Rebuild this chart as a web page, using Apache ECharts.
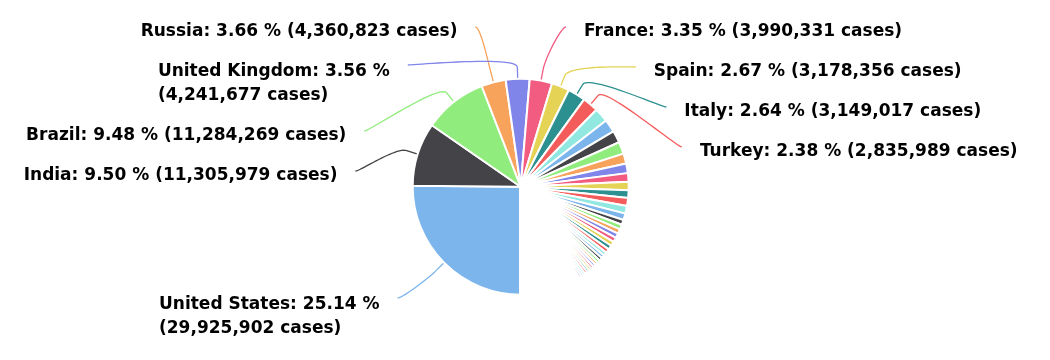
<!DOCTYPE html>
<html><head><meta charset="utf-8">
<script src="https://cdn.jsdelivr.net/npm/echarts@6/dist/echarts.min.js"></script>
<style>html,body{margin:0;padding:0;background:#fff;}#chart{width:1050px;height:360px;}</style>
</head><body><div id="chart"></div>
<script>
// ---- DATA (COVID-19 cumulative cases by country) ----
const countries = [
  'United States','India','Brazil','Russia','United Kingdom','France','Spain','Italy','Turkey',
  'Germany','Colombia','Argentina','Mexico','Poland','Iran','South Africa','Ukraine','Indonesia','Czechia','Peru',
  'Netherlands','Canada','Chile','Romania','Israel','Portugal','Belgium','Iraq','Sweden',
  'Philippines','Pakistan','Switzerland','Bangladesh','Serbia','Hungary','Morocco','Austria','Jordan','Japan',
  'United Arab Emirates','Lebanon','Saudi Arabia','Panama','Slovakia','Malaysia','Belarus','Ecuador',
  'Nepal','Georgia','Kazakhstan','Bolivia','Bulgaria','Croatia','Dominican Republic','Azerbaijan','Tunisia',
  'Ireland','Denmark','Greece','Costa Rica','Lithuania','Kuwait','Slovenia','Moldova','Egypt','Guatemala',
  'Armenia','Paraguay','Honduras','Qatar','Ethiopia','Nigeria',
  'Oman','Venezuela','Myanmar','Bosnia and Herzegovina','Libya','Bahrain','Albania','Algeria','Kenya','North Macedonia',
  'South Korea','Latvia','China','Kyrgyzstan','Sri Lanka','Ghana','Estonia','Zambia','Uzbekistan','Montenegro',
  'Norway','Kosovo','Finland','Mozambique','El Salvador','Cuba','Uruguay','Singapore','Luxembourg','Afghanistan',
  'Cameroon','Namibia','Uganda','Ivory Coast','Cyprus','Senegal','Zimbabwe','Botswana','Malawi','Jamaica',
  'Sudan','Australia','DR Congo','Thailand','Malta','Maldives','Madagascar','Angola','Rwanda','French Polynesia',
  'Mayotte','Mauritania','Guinea','Gabon','Eswatini','Syria','Cape Verde','Réunion','Tajikistan','Haiti',
  'Belize','Burkina Faso','Hong Kong','Andorra','Lesotho','Guadeloupe','South Sudan','Congo','Somalia','Guyana',
  'Mali','Suriname','Bahamas','Aruba','Trinidad and Tobago','Djibouti','Martinique','Togo','Benin','Equatorial Guinea',
  'Iceland','Nicaragua','Central African Republic','Curaçao','Niger','Gambia','Chad','Gibraltar','Sierra Leone','San Marino',
  'Mongolia','Saint Lucia','Comoros','Guinea-Bissau','Barbados','Seychelles','Jersey','Eritrea','Yemen','Liechtenstein',
  'Vietnam','New Zealand','Burundi','Turks and Caicos','Sao Tome and Principe','Liberia','Papua New Guinea','Monaco','Sint Maarten','Saint Vincent',
  'Isle of Man','Cambodia','Antigua and Barbuda','Taiwan','Bhutan','Bermuda','Mauritius','Guernsey','Faeroe Islands'
];
const cases = [
  29925902,11305979,11284269,4360823,4241677,3990331,3178356,3149017,2835989,
  2528000,2285000,2169000,2144000,1777000,1731000,1522000,1468000,1399000,1394000,1380000,
  1150000,900000,857657,846000,823000,815000,794000,764000,723000,
  621000,607000,574000,562000,505000,500000,487000,480000,460000,447000,
  434000,409000,383000,350000,345000,322000,307000,301000,
  275000,274000,269000,260000,259000,247000,246000,240000,239000,
  225000,216000,209000,207000,206000,205000,200000,197000,190000,184000,
  178000,177000,173000,170000,166000,160000,
  145000,144000,142000,140000,139000,125000,116000,115000,112000,111000,
  94000,91000,90000,87000,87000,87000,86000,84000,81000,81000,
  80000,70000,66000,63000,62000,61000,60000,60000,58000,56000,
  40000,40000,40000,39000,38000,37000,36000,35000,33000,31000,
  29000,29000,27000,27000,27000,22000,21000,21000,20000,18000,
  18000,17000,17000,17000,17000,16000,16000,14000,13000,12000,
  12000,12000,11000,11000,10000,10000,10000,9000,9000,9000,
  9000,9000,9000,8000,8000,7000,7000,7000,6000,6000,
  6000,5000,5000,5000,5000,5000,4000,4000,4000,4000,
  4000,4000,4000,3000,3000,3000,3000,3000,3000,3000,
  3000,2000,2000,2000,2000,2000,2000,2000,2000,2000,
  2000,1000,1000,1000,1000,1000,1000,1000,1000
];

// ---- STYLE / LAYOUT CONSTANTS ----
const palette = ['#7cb5ec','#434348','#90ed7d','#f7a35c','#8085e9','#f15c80','#e4d354','#2b908f','#f45b5b','#91e8e1'];
const CX = 520.7, CY = 186.7, R = 108;
const LABEL_DIST = 58;          // label anchors sit on a circle of radius R + LABEL_DIST
const START_DEG = 180;          // first slice starts at 6 o'clock (compass degrees)
const LABEL_MIN_SHARE = 0.023;  // only slices at least this big get a label
const FONT_FAMILY = '"DejaVu Sans", Verdana, sans-serif';
const FONT_SIZE = 17;
const MAX_LINE_W = 360;
const LINE_H = 24;
const TOP_BOUND = 15, BOTTOM_BOUND = 352;
const TEXT_GAP = 18;

const total = cases.reduce((a, b) => a + b, 0);
const ctx = document.createElement('canvas').getContext('2d');
ctx.font = 'bold ' + FONT_SIZE + 'px ' + FONT_FAMILY;

// slice geometry derived from the data
let cum = 0;
const byIndex = {};
const labelled = [];
cases.forEach((v, i) => {
  const mid = START_DEG + 360 * (cum + v / 2) / total;
  cum += v;
  if (v / total < LABEL_MIN_SHARE) return;
  const pct = (v / total * 100).toFixed(2);
  const head = countries[i] + ': ' + pct + ' %';
  const tail = '(' + v.toLocaleString('en-US') + ' cases)';
  const one = head + ' ' + tail;
  const text = ctx.measureText(one).width > MAX_LINE_W ? head + '\n' + tail : one;
  const lines = text.split('\n').length;
  const rad = mid * Math.PI / 180;
  const s = { i, text, lines, sin: Math.sin(rad), cos: Math.cos(rad) };
  s.left = s.sin < 0;
  s.h = 16 + LINE_H * lines;
  s.anchorOff = lines > 1 ? 10 : 12;
  s.naturalY = CY - (R + LABEL_DIST) * s.cos;
  s.sortKey = s.naturalY - s.anchorOff + s.h / 2;
  labelled.push(s);
  byIndex[i] = s;
});

[true, false].forEach(leftSide => {
  const side = labelled.filter(s => s.left === leftSide).sort((a, b) => a.sortKey - b.sortKey);
  let prevBottom = TOP_BOUND;
  side.forEach(s => { s.top = Math.max(s.naturalY - s.anchorOff, prevBottom); prevBottom = s.top + s.h; });
  let nextTop = BOTTOM_BOUND;
  for (let k = side.length - 1; k >= 0; k--) {
    const s = side[k];
    if (s.top + s.h > nextTop) s.top = nextTop - s.h;
    nextTop = s.top;
  }
  const RR = R + LABEL_DIST;
  side.forEach(s => {
    s.anchorY = s.top + s.anchorOff;
    const dy = s.anchorY - CY;
    const dx = Math.sqrt(Math.max(0, RR * RR - dy * dy));
    s.anchorX = CX + (leftSide ? -dx : dx);
    // connector: anchor -> soft curve -> break point -> slice edge
    const off = LABEL_DIST / 5;
    const touch = [CX + R * s.sin, CY - R * s.cos];
    const brk = [CX + (R + off) * s.sin, CY - (R + off) * s.cos];
    const p0 = [s.anchorX, s.anchorY];
    const c1 = [s.anchorX + (leftSide ? 5 : -5), s.anchorY];
    const c2 = [2 * brk[0] - touch[0], 2 * brk[1] - touch[1]];
    const pts = [touch];
    const N = 24;
    for (let k = N; k >= 0; k--) {
      const t = k / N, u = 1 - t;
      pts.push([
        u*u*u*p0[0] + 3*u*u*t*c1[0] + 3*u*t*t*c2[0] + t*t*t*brk[0],
        u*u*u*p0[1] + 3*u*u*t*c1[1] + 3*u*t*t*c2[1] + t*t*t*brk[1]
      ]);
    }
    s.points = pts;
  });
});

const seriesData = countries.map((name, i) => {
  const item = { name: name, value: cases[i] };
  const on = !!byIndex[i];
  item.label = { show: on };
  item.labelLine = { show: on };
  return item;
});

const chart = echarts.init(document.getElementById('chart'), null, { renderer: 'canvas' });
chart.setOption({
  animation: false,
  color: palette,
  backgroundColor: '#ffffff',
  series: [{
    type: 'pie',
    center: [CX, CY],
    radius: R,
    startAngle: -90,
    clockwise: true,
    avoidLabelOverlap: false,
    itemStyle: { borderColor: '#ffffff', borderWidth: 2, borderJoin: 'round' },
    label: {
      position: 'outside',
      fontFamily: FONT_FAMILY,
      fontSize: FONT_SIZE,
      fontWeight: 'bold',
      color: '#000000',
      lineHeight: LINE_H,
      formatter: p => (byIndex[p.dataIndex] ? byIndex[p.dataIndex].text : '')
    },
    labelLine: { length: 4, length2: 4, smooth: false, lineStyle: { width: 1.3 } },
    labelLayout: function (p) {
      const s = byIndex[p.dataIndex];
      if (!s) return {};
      const w = p.labelRect.width;
      return {
        x: s.left ? s.anchorX - TEXT_GAP - w : s.anchorX + TEXT_GAP,
        y: s.anchorY - 7.5 + (s.lines - 1) * 2.5,
        align: 'left',
        verticalAlign: 'top',
        labelLinePoints: s.points
      };
    },
    emphasis: { disabled: true },
    data: seriesData
  }]
});
</script></body></html>
